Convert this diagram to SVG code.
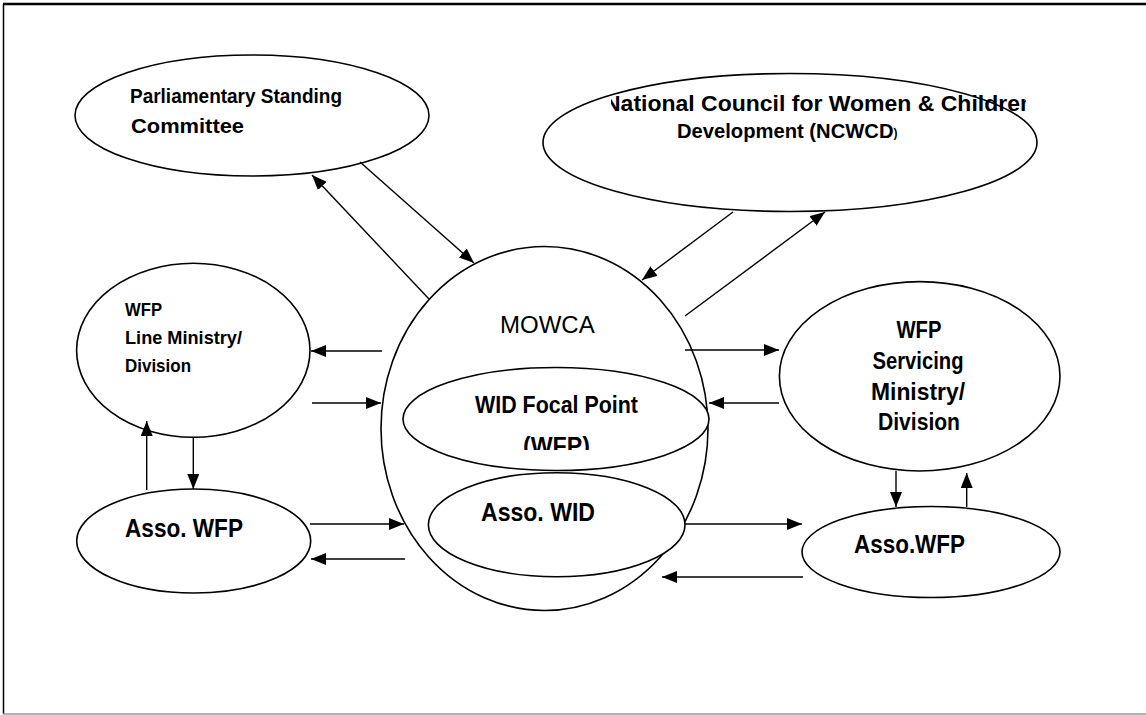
<svg xmlns="http://www.w3.org/2000/svg" width="1146" height="715" viewBox="0 0 1146 715">
<style>
.n{fill:#fff;stroke:#000;stroke-width:1.6}
.t{font-family:"Liberation Sans",Arial,sans-serif;font-weight:bold;fill:#000}
.r{font-family:"Liberation Sans",Arial,sans-serif;font-weight:normal;fill:#000}
.c line{stroke:#000;stroke-width:1.4;marker-end:url(#ah)}
</style>
<defs>
<marker id="ah" markerUnits="userSpaceOnUse" markerWidth="15" markerHeight="12" refX="15" refY="6" orient="auto">
<path d="M0,0 L15,6 L0,12 Z" fill="#000"/>
</marker>
<clipPath id="clipNC"><rect x="611" y="80" width="415" height="40"/></clipPath>
<clipPath id="clipWFP"><rect x="400" y="420" width="320" height="30"/></clipPath>
</defs>
<g id="frame">
<line x1="3" y1="4" x2="1146" y2="4" stroke="#000" stroke-width="2.5"/>
<line x1="3.5" y1="4" x2="3.5" y2="714" stroke="#000" stroke-width="1.5"/>
<line x1="3" y1="714" x2="1146" y2="714" stroke="#999" stroke-width="1.5"/>
</g>
<g id="parliamentary">
<ellipse class="n" cx="252" cy="115.5" rx="177" ry="60.5"/>
<text class="t" x="130" y="103" font-size="21" textLength="212" lengthAdjust="spacingAndGlyphs">Parliamentary Standing</text>
<text class="t" x="131" y="133" font-size="21" textLength="113" lengthAdjust="spacingAndGlyphs">Committee</text>
</g>
<g id="ncwcd">
<ellipse class="n" cx="790" cy="142.5" rx="247" ry="69"/>
<g clip-path="url(#clipNC)">
<text class="t" x="604" y="111" font-size="22" textLength="430" lengthAdjust="spacingAndGlyphs">National Council for Women &amp; Children</text>
</g>
<text class="t" x="677" y="137.5" font-size="20.2">Development (NCWCD<tspan font-size="12" dy="-1">)</tspan></text>
</g>
<g id="mowca">
<ellipse class="n" cx="544.5" cy="428.5" rx="163.5" ry="182"/>
<text class="r" x="500" y="333" font-size="24">MOWCA</text>
</g>
<g id="wid-focal-point">
<ellipse class="n" cx="556" cy="419" rx="153" ry="51.5"/>
<text class="t" x="475" y="413" font-size="24" textLength="163" lengthAdjust="spacingAndGlyphs">WID Focal Point</text>
<g clip-path="url(#clipWFP)">
<text class="t" x="523" y="454" font-size="24" textLength="67" lengthAdjust="spacingAndGlyphs">(WFP)</text>
</g>
</g>
<g id="asso-wid">
<ellipse class="n" cx="556.7" cy="524.7" rx="128.3" ry="52"/>
<text class="t" x="481" y="521" font-size="26" textLength="114" lengthAdjust="spacingAndGlyphs">Asso. WID</text>
</g>
<g id="line-ministry">
<ellipse class="n" cx="193.3" cy="350.3" rx="116.7" ry="87"/>
<text class="t" x="125" y="316" font-size="18" textLength="37" lengthAdjust="spacingAndGlyphs">WFP</text>
<text class="t" x="125" y="344" font-size="18" textLength="117" lengthAdjust="spacingAndGlyphs">Line Ministry/</text>
<text class="t" x="125" y="372" font-size="18" textLength="66" lengthAdjust="spacingAndGlyphs">Division</text>
</g>
<g id="asso-wfp-left">
<ellipse class="n" cx="193.7" cy="541" rx="117" ry="52"/>
<text class="t" x="125" y="537" font-size="26" textLength="118" lengthAdjust="spacingAndGlyphs">Asso. WFP</text>
</g>
<g id="servicing-ministry">
<ellipse class="n" cx="919.7" cy="376.3" rx="140.3" ry="94.7"/>
<text class="t" x="919" y="338" font-size="23" text-anchor="middle" textLength="45" lengthAdjust="spacingAndGlyphs">WFP</text>
<text class="t" x="918" y="369" font-size="23" text-anchor="middle" textLength="91" lengthAdjust="spacingAndGlyphs">Servicing</text>
<text class="t" x="918" y="400" font-size="23" text-anchor="middle" textLength="94" lengthAdjust="spacingAndGlyphs">Ministry/</text>
<text class="t" x="919" y="430" font-size="23" text-anchor="middle" textLength="82" lengthAdjust="spacingAndGlyphs">Division</text>
</g>
<g id="asso-wfp-right">
<ellipse class="n" cx="931" cy="552" rx="129" ry="45.5"/>
<text class="t" x="854" y="553" font-size="26" textLength="111" lengthAdjust="spacingAndGlyphs">Asso.WFP</text>
</g>
<g id="connectors" class="c">
<line x1="429" y1="299" x2="312" y2="175"/>
<line x1="360" y1="162" x2="474" y2="263"/>
<line x1="733" y1="212" x2="642" y2="280"/>
<line x1="685" y1="316" x2="825" y2="212"/>
<line x1="382" y1="351" x2="311" y2="351"/>
<line x1="312" y1="403" x2="381" y2="403"/>
<line x1="193.3" y1="438" x2="193.3" y2="489"/>
<line x1="146.7" y1="490" x2="146.7" y2="421"/>
<line x1="310" y1="524" x2="404" y2="524"/>
<line x1="405" y1="559" x2="311" y2="559"/>
<line x1="685" y1="350" x2="779" y2="350"/>
<line x1="779" y1="403" x2="709" y2="403"/>
<line x1="896" y1="471" x2="896" y2="507"/>
<line x1="966.7" y1="507" x2="966.7" y2="473"/>
<line x1="685" y1="524" x2="802" y2="524"/>
<line x1="803" y1="577" x2="662" y2="577"/>
</g>
</svg>
